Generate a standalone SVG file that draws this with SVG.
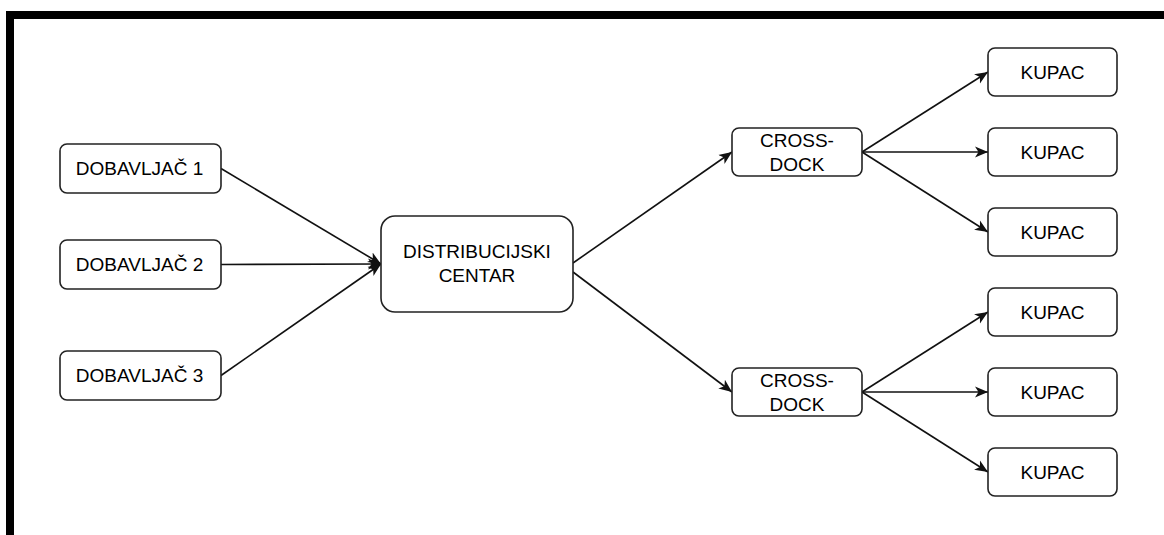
<svg xmlns="http://www.w3.org/2000/svg" width="1164" height="535" viewBox="0 0 1164 535">
<style>
.n rect{fill:#fff;stroke:#222;stroke-width:1.6}
.n text{font-family:"Liberation Sans",Arial,sans-serif;font-size:19px;fill:#000;text-anchor:middle}
.e path{fill:none;stroke:#111;stroke-width:1.6;marker-end:url(#ah)}
</style>
<defs>
<marker id="ah" markerUnits="userSpaceOnUse" markerWidth="16" markerHeight="14" viewBox="0 0 16 14" refX="13" refY="7" orient="auto">
<path d="M0,1.5 L13,7 L0,12.5 L3.5,7 Z" fill="#111"/>
</marker>
</defs>
<rect x="0" y="0" width="1164" height="535" fill="#fff"/>
<path d="M10,535 V15 H1164" fill="none" stroke="#000" stroke-width="8"/>
<g class="e" id="connectors">
<path d="M221,168.5 L381,264"/>
<path d="M221,264.5 L381,264"/>
<path d="M221,375.5 L381,264"/>
<path d="M573,263 L732,152"/>
<path d="M573,272 L732,392"/>
<path d="M862,152 L988,72"/>
<path d="M862,152 L988,152"/>
<path d="M862,152 L988,232"/>
<path d="M862,392 L988,312"/>
<path d="M862,392 L988,392"/>
<path d="M862,392 L988,472"/>
</g>
<g class="n" id="dobavljac1"><rect x="60" y="144" width="161" height="49" rx="7"/><text x="139.5" y="175">DOBAVLJAČ 1</text></g>
<g class="n" id="dobavljac2"><rect x="60" y="240" width="161" height="49" rx="7"/><text x="139.5" y="271">DOBAVLJAČ 2</text></g>
<g class="n" id="dobavljac3"><rect x="60" y="351" width="161" height="49" rx="7"/><text x="139.5" y="382">DOBAVLJAČ 3</text></g>
<g class="n" id="dc"><rect x="381" y="216" width="192" height="96" rx="14"/><text x="477" y="258">DISTRIBUCIJSKI</text><text x="477" y="282">CENTAR</text></g>
<g class="n" id="crossdock1"><rect x="732" y="128" width="130" height="48" rx="7"/><text x="797" y="147">CROSS-</text><text x="797" y="171">DOCK</text></g>
<g class="n" id="crossdock2"><rect x="732" y="368" width="130" height="48" rx="7"/><text x="797" y="387">CROSS-</text><text x="797" y="411">DOCK</text></g>
<g class="n" id="kupac1"><rect x="988" y="48" width="129" height="48" rx="7"/><text x="1052.5" y="78.5">KUPAC</text></g>
<g class="n" id="kupac2"><rect x="988" y="128" width="129" height="48" rx="7"/><text x="1052.5" y="158.5">KUPAC</text></g>
<g class="n" id="kupac3"><rect x="988" y="208" width="129" height="48" rx="7"/><text x="1052.5" y="238.5">KUPAC</text></g>
<g class="n" id="kupac4"><rect x="988" y="288" width="129" height="48" rx="7"/><text x="1052.5" y="318.5">KUPAC</text></g>
<g class="n" id="kupac5"><rect x="988" y="368" width="129" height="48" rx="7"/><text x="1052.5" y="398.5">KUPAC</text></g>
<g class="n" id="kupac6"><rect x="988" y="448" width="129" height="48" rx="7"/><text x="1052.5" y="478.5">KUPAC</text></g>
</svg>
